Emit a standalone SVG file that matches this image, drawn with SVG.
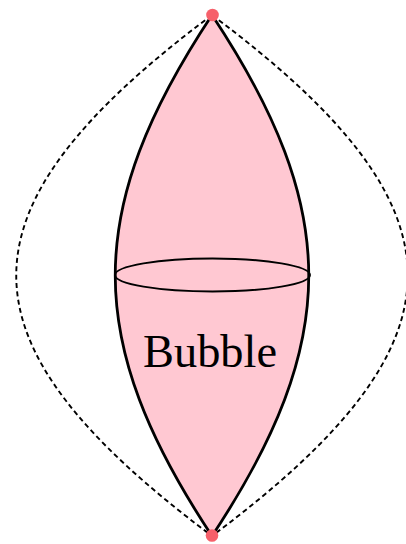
<svg xmlns="http://www.w3.org/2000/svg" width="406" height="544" viewBox="0 0 406 544">
<style>
.fill{fill:#FFC8D2;stroke:none}
.lens{fill:none;stroke:#000;stroke-width:2.8}
.eq{fill:none;stroke:#000;stroke-width:1.9}
.dash{fill:none;stroke:#000;stroke-width:1.9;stroke-dasharray:5 3.4}
.pt{fill:#F6606A}
.lbl{font-family:"Liberation Serif","DejaVu Serif",serif;font-size:46px;fill:#000}
</style>
<rect width="406" height="544" fill="#fff"/>
<g id="connectors">
<path class="dash" d="M212,15 C-49,210 -49,341 212,536"/>
<path class="dash" d="M212,15 C473,210 473,341 212,536"/>
</g>
<g id="bubble">
<path class="fill" d="M212,15 C83,210 83,341 212,536 Z"/>
<path class="fill" d="M212,15 C341,210 341,341 212,536 Z"/>
<path class="lens" d="M212,15 C83,210 83,341 212,536"/>
<path class="lens" d="M212,15 C341,210 341,341 212,536"/>
<ellipse class="eq" cx="212.5" cy="275" rx="97.5" ry="16.5"/>
<text class="lbl" x="210" y="367" text-anchor="middle" textLength="134" lengthAdjust="spacingAndGlyphs">Bubble</text>
</g>
<g id="top-point"><circle class="pt" cx="212.5" cy="15" r="6.3"/></g>
<g id="bottom-point"><circle class="pt" cx="212" cy="535.5" r="6.3"/></g>
</svg>
